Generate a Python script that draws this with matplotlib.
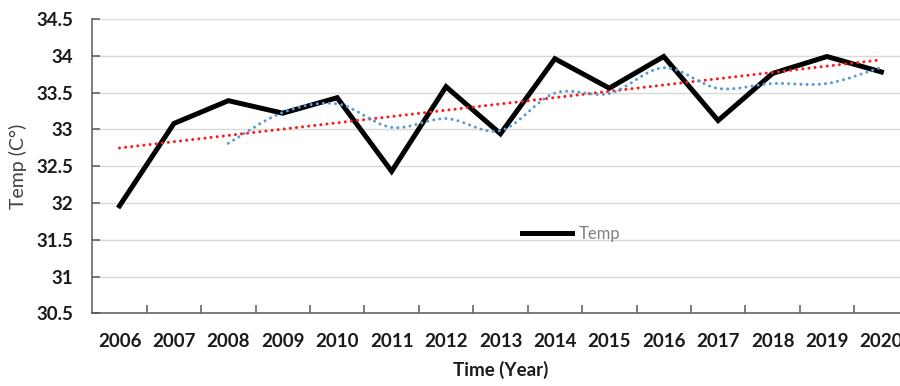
import numpy as np
import matplotlib
matplotlib.use("Agg")
import matplotlib.pyplot as plt
from matplotlib.path import Path
from matplotlib.patches import PathPatch

plt.rcParams['font.family'] = ['Lato', 'DejaVu Sans']

years = ['2006', '2007', '2008', '2009', '2010', '2011', '2012', '2013',
         '2014', '2015', '2016', '2017', '2018', '2019', '2020']
temp = [31.96, 33.08, 33.39, 33.22, 33.43, 32.43, 33.58, 32.94,
        33.96, 33.56, 33.99, 33.12, 33.76, 33.99, 33.78]
ma_period = 3

x = np.arange(len(years))
y = np.array(temp)

# 3-year moving average, starts at the third year
ma = np.convolve(y, np.ones(ma_period) / ma_period, mode='valid')
ma_x = x[ma_period - 1:]

# linear trend
slope, icpt = np.polyfit(x, y, 1)
trend = slope * x + icpt


def smooth_path(px, py):
    # catmull-rom style bezier through the points (like a spreadsheet "smoothed line")
    pts = np.column_stack([px, py]).astype(float)
    verts = [pts[0]]
    codes = [Path.MOVETO]
    n = len(pts)
    for i in range(n - 1):
        p0 = pts[max(i - 1, 0)]
        p1 = pts[i]
        p2 = pts[i + 1]
        p3 = pts[min(i + 2, n - 1)]
        c1 = p1 + (p2 - p0) / 6.0
        c2 = p2 - (p3 - p1) / 6.0
        verts += [c1, c2, p2]
        codes += [Path.CURVE4] * 3
    return Path(verts, codes)


dots = (0, (0.01, 2.0))

fig = plt.figure(figsize=(9, 3.86), dpi=100)
ax = fig.add_axes([92.3 / 900, 1 - 313.3 / 386, 816.3 / 900, 294.3 / 386])

ax.set_ylim(30.5, 34.5)
ax.set_xlim(-0.5, len(years) - 0.5)
ax.set_yticks(np.arange(30.5, 34.51, 0.5))
ax.set_yticklabels(['30.5', '31', '31.5', '32', '32.5', '33', '33.5', '34', '34.5'])
ax.set_xticks(x)
ax.set_xticklabels(years)
ax.set_xticks(np.arange(0.5, len(years) - 0.5, 1.0), minor=True)

ax.grid(axis='y', color='#d9d9d9', linewidth=1.0, zorder=0)
ax.set_axisbelow(True)
for s in ['top', 'right']:
    ax.spines[s].set_visible(False)
for s in ['left', 'bottom']:
    ax.spines[s].set_color('#595959')
    ax.spines[s].set_linewidth(1.1)

ax.tick_params(axis='x', which='major', length=0, pad=14, labelsize=13.5)
ax.tick_params(axis='x', which='minor', direction='in', length=6, color='#595959', width=1.1)
ax.tick_params(axis='y', direction='in', length=6, color='#595959', width=1.1, pad=14,
               labelsize=13.5)
for lab in ax.get_xticklabels() + ax.get_yticklabels():
    lab.set_fontweight('bold')
    lab.set_color('#1a1a1a')

ax.plot(x, y, color='black', linewidth=3.6, solid_joinstyle='miter', label='Temp', zorder=3)
ax.plot(x, trend, color='#ff1a1a', linewidth=2.2, linestyle=dots,
        dash_capstyle='round', zorder=4)
ax.add_patch(PathPatch(smooth_path(ma_x, ma), fill=False, edgecolor='#5b9bd5',
                       linewidth=2.2, linestyle=dots, capstyle='round', zorder=4))

ax.set_ylabel('Temp (C°)', fontsize=14, color='#404040')
ax.yaxis.set_label_coords(-0.08, 0.5)
ax.set_xlabel('Time (Year)', fontsize=13.5, fontweight='bold', color='#1a1a1a', labelpad=8)

leg = fig.legend(loc='center left', bbox_to_anchor=(521.7 / 900, 1 - 233.5 / 386),
                 frameon=False, fontsize=12, handlelength=3.0, handletextpad=0.4,
                 borderpad=0, borderaxespad=0)
for t in leg.get_texts():
    t.set_color('#808080')

fig.savefig('out.png', dpi=100)
